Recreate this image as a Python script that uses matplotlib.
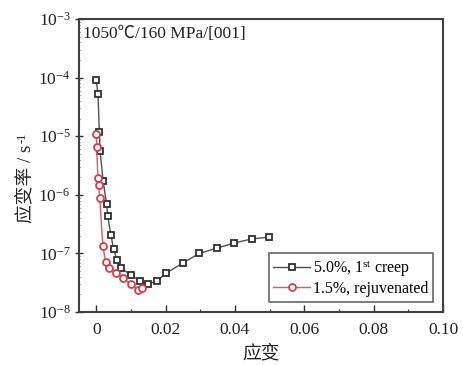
import matplotlib
matplotlib.use("Agg")
import matplotlib.pyplot as plt
from matplotlib.ticker import LogLocator, LogFormatterMathtext, MultipleLocator, NullFormatter

plt.rcParams['font.family'] = ['Liberation Serif', 'Noto Sans CJK SC', 'DejaVu Sans']
plt.rcParams['mathtext.fontset'] = 'custom'
plt.rcParams['mathtext.rm'] = 'Liberation Serif'
plt.rcParams['mathtext.it'] = 'Liberation Serif:italic'
plt.rcParams['mathtext.bf'] = 'Liberation Serif:bold'

# Data
strain_creep = [0.0, 0.0005, 0.0009, 0.0011, 0.0020, 0.0030, 0.0033, 0.0042, 0.0050,
                0.0060, 0.0071, 0.0100, 0.0125, 0.0149, 0.0175, 0.0201, 0.0250,
                0.0297, 0.0347, 0.0397, 0.0448, 0.0499]
rate_creep = [9.0e-5, 5.3e-5, 1.2e-5, 5.7e-6, 1.7e-6, 6.9e-7, 4.4e-7, 2.1e-7, 1.2e-7,
              7.6e-8, 5.6e-8, 4.3e-8, 3.4e-8, 3.0e-8, 3.4e-8, 4.6e-8, 6.9e-8,
              1.0e-7, 1.23e-7, 1.5e-7, 1.77e-7, 1.9e-7]
strain_rej = [0.0, 0.0001, 0.0005, 0.0007, 0.0010, 0.0019, 0.0027, 0.0038, 0.0058,
              0.0077, 0.0100, 0.0119, 0.0131]
rate_rej = [1.1e-5, 6.6e-6, 1.9e-6, 1.5e-6, 9.0e-7, 1.35e-7, 7.2e-8, 5.6e-8, 4.7e-8,
            3.8e-8, 3.0e-8, 2.4e-8, 2.6e-8]

label_creep = '5.0%, 1$^{\\mathrm{st}}$ creep'
label_rej = '1.5%, rejuvenated'
title_text = '1050\u2103/160 MPa/[001]'
xlabel = '应变'
ylabel_main = '应变率 / s'
ylabel_sup = '-1'

fig = plt.figure(figsize=(4.64, 3.65), dpi=100)
ax = fig.add_axes([0.170, 0.145, 0.785, 0.803])

ax.plot(strain_creep, rate_creep, color='#505050', lw=1.0, marker='s', ms=4.5,
        mfc='white', mec='#303030', mew=1.3, label=label_creep)
ax.plot(strain_rej, rate_rej, color='#e05560', lw=1.0, marker='o', ms=5,
        mfc='white', mec='#d83c48', mew=1.3, label=label_rej)

ax.set_yscale('log')
ax.set_xlim(-0.005, 0.1)
ax.set_ylim(1e-8, 1e-3)
ax.xaxis.set_major_locator(MultipleLocator(0.02))
ax.xaxis.set_minor_locator(MultipleLocator(0.01))
ax.xaxis.set_major_formatter(plt.FuncFormatter(lambda v, p: '0' if abs(v) < 1e-12 else f'{v:.2f}'))
ax.yaxis.set_major_locator(LogLocator(base=10, numticks=10))
ax.yaxis.set_major_formatter(LogFormatterMathtext())
ax.yaxis.set_minor_locator(LogLocator(base=10, subs=range(2, 10), numticks=20))
ax.yaxis.set_minor_formatter(NullFormatter())

ax.tick_params(axis='x', which='major', direction='in', length=5, width=1,
               labelsize=12.5, colors='#303030', labelcolor='#222222', pad=7)
ax.tick_params(axis='x', which='minor', direction='in', length=2.5, width=0.8, colors='#303030')
ax.tick_params(axis='y', which='major', direction='inout', length=6, width=1,
               labelsize=12.5, colors='#303030', labelcolor='#222222', pad=3)
ax.tick_params(axis='y', which='minor', direction='inout', length=2, width=0.6, colors='#303030')
for s in ax.spines.values():
    s.set_color('#404040')
    s.set_linewidth(1.5)

ax.text(0.012, 0.975, title_text, transform=ax.transAxes, ha='left', va='top',
        fontsize=12.5, color='#222222')

ax.set_xlabel(xlabel, fontsize=13.5, color='#222222', labelpad=5)

# y label: Chinese text plus superscript drawn as separate text pieces
ylab = fig.text(0.056, 0.39, ylabel_main, rotation=90, ha='center', va='bottom',
                fontsize=13.5, color='#222222')
fig.canvas.draw()
bb = ylab.get_window_extent()
fig.text((bb.x0 - 1) / fig.bbox.width, (bb.y1 + 1) / fig.bbox.height, ylabel_sup,
         rotation=90, ha='left', va='bottom', fontsize=9, color='#222222')

leg = ax.legend(loc='lower right', fontsize=11.5, frameon=True, fancybox=False,
                edgecolor='#404040', handlelength=2.3, handletextpad=0.15,
                borderpad=0.3, labelspacing=0.15, borderaxespad=0.65)
leg.get_frame().set_linewidth(1.2)

fig.savefig('out.png', dpi=100)
